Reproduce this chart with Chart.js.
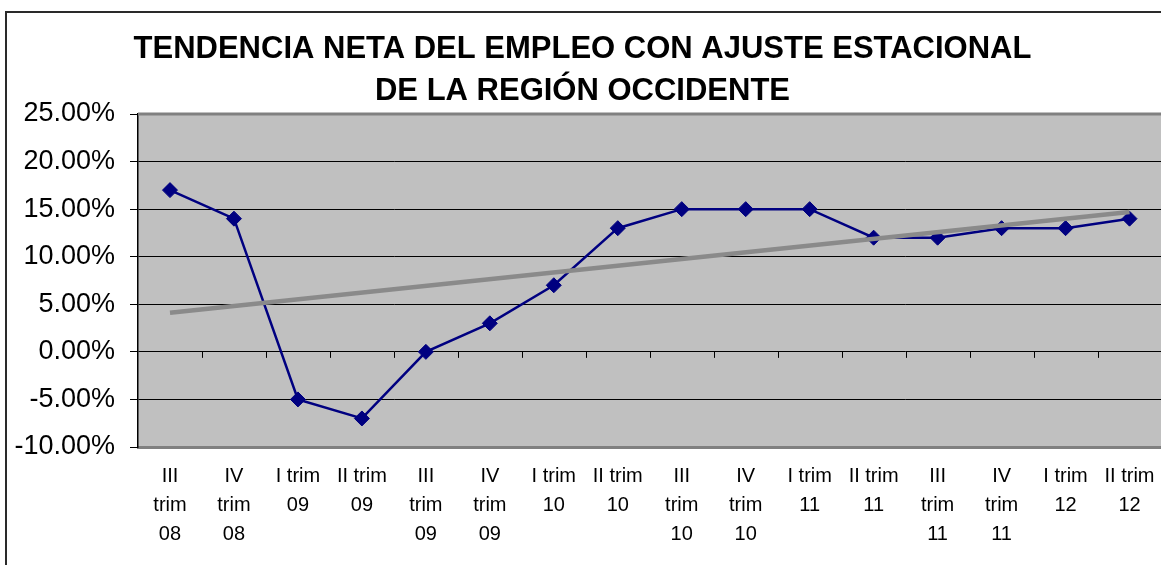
<!DOCTYPE html>
<html>
<head>
<meta charset="utf-8">
<script src="https://cdn.jsdelivr.net/npm/chart.js@4/dist/chart.umd.min.js"></script>
<style>
  html, body { margin: 0; padding: 0; background: #fff; overflow: hidden; width: 1161px; height: 565px; }
  #frame { position: absolute; left: 5px; top: 11px; width: 1400px; height: 800px; border-left: 2px solid #2a2a2a; border-top: 2px solid #2a2a2a; }
  #wrap { position: absolute; left: 0; top: 0; width: 1170px; height: 565px; }
</style>
</head>
<body>
<div id="frame"></div>
<div id="wrap"><canvas id="c" width="1170" height="565"></canvas></div>
<script>
const titleLines = ["TENDENCIA NETA DEL EMPLEO CON AJUSTE ESTACIONAL", "DE LA REGIÓN OCCIDENTE"];
const categories = [
  ["III", "trim", "08"], ["IV", "trim", "08"], ["I trim", "09"], ["II trim", "09"],
  ["III", "trim", "09"], ["IV", "trim", "09"], ["I trim", "10"], ["II trim", "10"],
  ["III", "trim", "10"], ["IV", "trim", "10"], ["I trim", "11"], ["II trim", "11"],
  ["III", "trim", "11"], ["IV", "trim", "11"], ["I trim", "12"], ["II trim", "12"]
];
const employment = [17, 14, -5, -7, 0, 3, 7, 13, 15, 15, 15, 12, 12, 13, 13, 14];
const trend = [4.1, null, null, null, null, null, null, null, null, null, null, null, null, null, null, 14.7];
const yMin = -10, yMax = 25, yStep = 5;

const plotDeco = {
  id: 'plotDeco',
  beforeDraw(chart) {
    const a = chart.chartArea, ctx = chart.ctx;
    ctx.save();
    ctx.fillStyle = '#C0C0C0';
    ctx.fillRect(a.left, a.top, a.right - a.left, a.bottom - a.top);
    ctx.restore();
  },
  beforeDatasetsDraw(chart) {
    const a = chart.chartArea, ctx = chart.ctx;
    const xs = chart.scales.x, ys = chart.scales.y;
    ctx.save();
    ctx.strokeStyle = '#808080';
    ctx.lineWidth = 3;
    ctx.beginPath();
    ctx.moveTo(a.left, a.top);
    ctx.lineTo(a.right, a.top);
    ctx.stroke();
    const y0 = ys.getPixelForValue(0);
    ctx.strokeStyle = '#000';
    ctx.lineWidth = 1;
    ctx.beginPath();
    for (let i = 1; i < categories.length; i++) {
      const x = Math.round((xs.getPixelForValue(i - 1) + xs.getPixelForValue(i)) / 2) + 0.5;
      ctx.moveTo(x, y0);
      ctx.lineTo(x, y0 + 6);
    }
    ctx.stroke();
    ctx.restore();
  }
};

new Chart(document.getElementById('c'), {
  type: 'line',
  data: {
    labels: categories,
    datasets: [
      {
        label: 'Tendencia',
        data: trend,
        borderColor: '#8a8a8a',
        borderWidth: 4.5,
        pointRadius: 0,
        spanGaps: true,
        fill: false,
        order: 0
      },
      {
        label: 'Empleo',
        data: employment,
        borderColor: '#000080',
        backgroundColor: '#000080',
        borderWidth: 2.5,
        pointStyle: 'rectRot',
        pointRadius: 7.5,
        pointHoverRadius: 7.5,
        pointBorderWidth: 1,
        fill: false,
        tension: 0,
        order: 1
      }
    ]
  },
  options: {
    responsive: false,
    animation: false,
    events: [],
    layout: { padding: { left: 0, right: 5, top: 0, bottom: 0 } },
    plugins: {
      legend: { display: false },
      tooltip: { enabled: false },
      title: {
        display: true,
        text: titleLines,
        color: '#000',
        font: { family: '"Liberation Sans", Arial, sans-serif', size: 31, weight: 'bold', lineHeight: 1.355 },
        padding: { top: 28, bottom: 2 }
      }
    },
    scales: {
      x: {
        offset: true,
        grid: { display: false, drawTicks: false },
        border: { display: true, color: '#808080', width: 3 },
        ticks: {
          autoSkip: false,
          maxRotation: 0,
          minRotation: 0,
          padding: 15,
          color: '#000',
          font: { family: '"Liberation Sans", Arial, sans-serif', size: 20, lineHeight: 1.45 }
        },
        afterFit(scale) { scale.height = 118; }
      },
      y: {
        min: yMin,
        max: yMax,
        grid: {
          color: (c) => (c.tick && (c.tick.value === yMax || c.tick.value === yMin)) ? 'rgba(0,0,0,0)' : '#000',
          tickColor: '#000',
          lineWidth: 1,
          tickLength: 8
        },
        border: { display: true, color: '#000', width: 1.5 },
        ticks: {
          stepSize: yStep,
          padding: 15,
          color: '#000',
          font: { family: '"Liberation Sans", Arial, sans-serif', size: 27 },
          callback: (v) => v.toFixed(2) + '%'
        },
        afterFit(scale) { scale.width = 138; }
      }
    }
  },
  plugins: [plotDeco]
});
</script>
</body>
</html>
